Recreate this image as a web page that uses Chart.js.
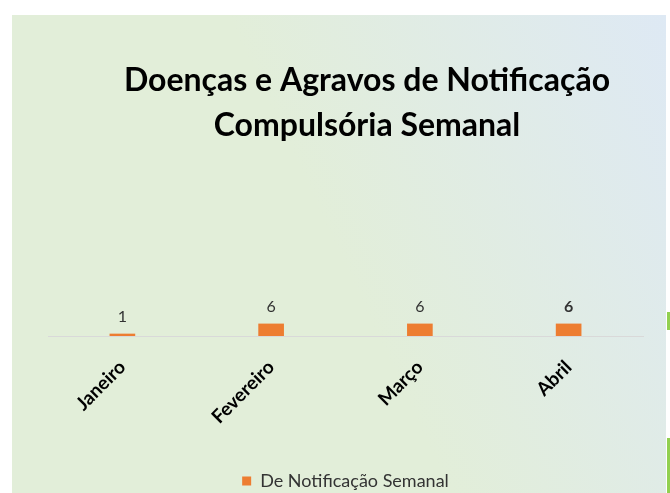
<!DOCTYPE html>
<html>
<head>
<meta charset="utf-8">
<script src="https://cdn.jsdelivr.net/npm/chart.js@4"></script>
<style>
  body { margin: 0; background: #fff; width: 670px; height: 493px; overflow: hidden; position: relative; }
  #panel {
    position: absolute; left: 12px; top: 15px; width: 654px; height: 478px;
    background: linear-gradient(65deg, #e2eed9 0%, #e2eed9 50%, #dee9f4 100%);
  }
  .deco { position: absolute; background: #92d050; }
</style>
</head>
<body>
<div id="panel"><canvas id="chart" width="654" height="478"></canvas></div>
<div class="deco" style="left:667px;top:312px;width:3px;height:18px;"></div>
<div class="deco" style="left:667px;top:438px;width:3px;height:55px;"></div>
<script>
const months = ["Janeiro", "Fevereiro", "Março", "Abril"];
const weeklyCases = [1, 6, 6, 6];
const seriesName = "De Notificação Semanal";
const titleLines = ["Doenças e Agravos de Notificação", "Compulsória Semanal"];

// title is drawn by hand because it sits a bit right of the plot centre
const titlePlugin = {
  id: "slideTitle",
  afterDraw(chart) {
    const c = chart.ctx;
    c.save();
    c.font = "bold 32px Lato";
    c.fillStyle = "#000";
    c.textAlign = "center";
    c.textBaseline = "middle";
    c.fillText(titleLines[0], 355, 66);
    c.fillText(titleLines[1], 355, 111);
    c.restore();
  },
};

// value labels above each bar
const valueLabels = {
  id: "valueLabels",
  afterDatasetsDraw(chart) {
    const c = chart.ctx;
    const meta = chart.getDatasetMeta(0);
    c.save();
    c.fillStyle = "#333";
    c.textAlign = "center";
    c.textBaseline = "middle";
    meta.data.forEach((bar, i) => {
      c.font = (i === meta.data.length - 1 ? "bold " : "") + "16px Lato";
      c.fillText(weeklyCases[i], bar.x, bar.y - 17);
    });
    c.restore();
  },
};

new Chart(document.getElementById("chart"), {
  type: "bar",
  data: {
    labels: months,
    datasets: [
      {
        label: seriesName,
        data: weeklyCases,
        backgroundColor: "#ed7d31",
        barThickness: 25,
      },
    ],
  },
  options: {
    responsive: false,
    animation: false,
    layout: { padding: { top: 150, left: 36, right: 23, bottom: -7 } },
    plugins: {
      title: { display: false },
      tooltip: { enabled: false },
      legend: {
        position: "bottom",
        labels: {
          boxWidth: 9,
          boxHeight: 9,
          color: "#333",
          font: { family: "Lato", size: 18 },
          padding: 0,
        },
      },
    },
    scales: {
      x: {
        grid: { display: false },
        border: { color: "#d9d9d9" },
        ticks: {
          color: "#000",
          font: { family: "Lato", size: 19, weight: "bold" },
          minRotation: 45,
          maxRotation: 45,
          padding: 12,
        },
        afterFit(scale) {
          scale.height = 136;
        },
      },
      y: {
        display: false,
        min: 0,
        max: 85,
      },
    },
  },
  plugins: [titlePlugin, valueLabels],
});
</script>
</body>
</html>
